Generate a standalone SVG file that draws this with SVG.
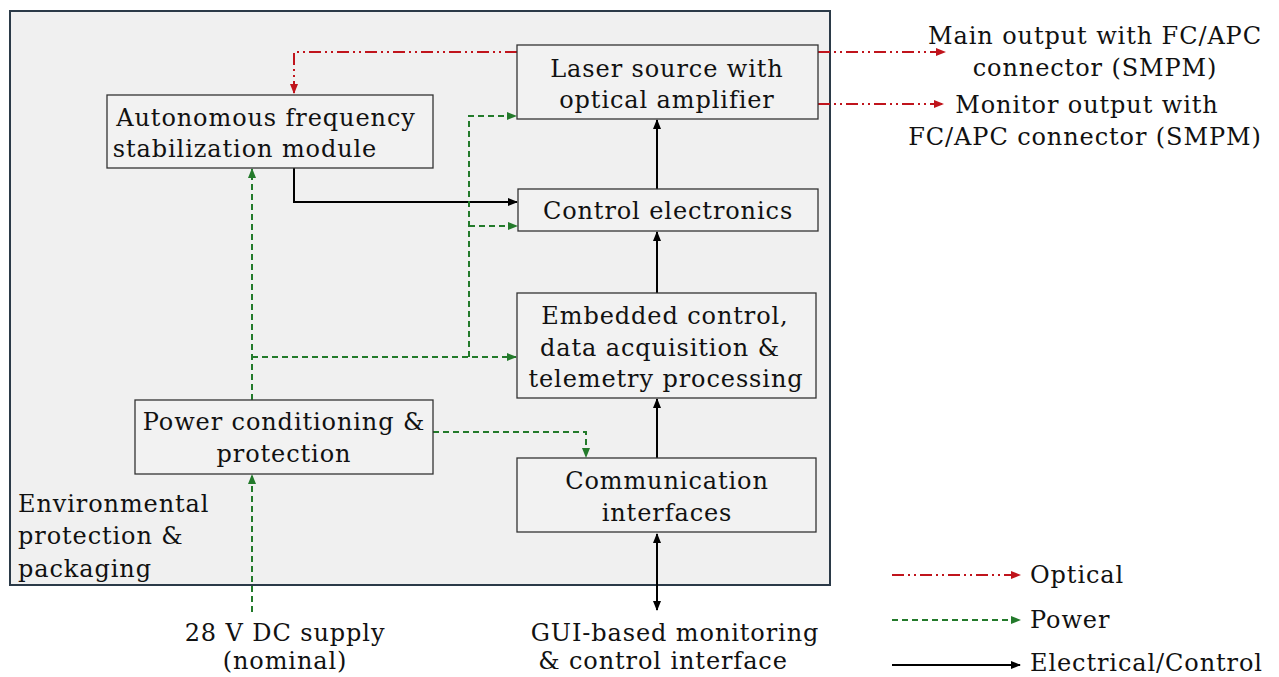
<svg xmlns="http://www.w3.org/2000/svg" width="1279" height="677" viewBox="0 0 1279 677">
<style>
text{font-family:"DejaVu Serif","Liberation Serif",serif;font-size:24px;letter-spacing:0.9px;fill:#111;text-anchor:middle}
.box{fill:#f2f2f2;stroke:#333;stroke-width:1.3}
.opt{fill:none;stroke:#c0141c;stroke-width:2;stroke-dasharray:12 4 2 4 2 4}
.pwr{fill:none;stroke:#237a2b;stroke-width:2;stroke-dasharray:6 4}
.el{fill:none;stroke:#000;stroke-width:2}
</style>
<defs>
<marker id="aR" markerWidth="10" markerHeight="8" refX="9" refY="4" orient="auto" markerUnits="userSpaceOnUse"><path d="M0,0 L10,4 L0,8 z" fill="#c0141c"/></marker>
<marker id="aG" markerWidth="10" markerHeight="8" refX="9" refY="4" orient="auto" markerUnits="userSpaceOnUse"><path d="M0,0 L10,4 L0,8 z" fill="#237a2b"/></marker>
<marker id="aK" markerWidth="10" markerHeight="8" refX="9" refY="4" orient="auto" markerUnits="userSpaceOnUse"><path d="M0,0 L10,4 L0,8 z" fill="#000"/></marker>
<marker id="aKs" markerWidth="10" markerHeight="8" refX="1" refY="4" orient="auto" markerUnits="userSpaceOnUse"><path d="M10,0 L0,4 L10,8 z" fill="#000"/></marker>
</defs>
<rect width="1279" height="677" fill="#fff"/>
<g id="enclosure">
<rect x="10" y="11" width="820" height="574" fill="#f0f0f0" stroke="#2b3a48" stroke-width="2"/>
<text x="18" y="512" style="text-anchor:start">Environmental</text>
<text x="18" y="544" style="text-anchor:start">protection &amp;</text>
<text x="18" y="577" style="text-anchor:start">packaging</text>
</g>
<g id="connectors">
<path class="opt" d="M517,52 H294 V93" marker-end="url(#aR)"/>
<path class="opt" d="M818,52 H945" marker-end="url(#aR)"/>
<path class="opt" d="M818,104 H943" marker-end="url(#aR)"/>
<path class="el" d="M294,168 V202 H517" marker-end="url(#aK)"/>
<path class="el" d="M657,189 V120" marker-end="url(#aK)"/>
<path class="el" d="M657,293 V232" marker-end="url(#aK)"/>
<path class="el" d="M657,458 V399" marker-end="url(#aK)"/>
<path class="el" d="M657,534 V610" marker-start="url(#aKs)" marker-end="url(#aK)"/>
<path class="pwr" d="M252,612 V475" marker-end="url(#aG)"/>
<path class="pwr" d="M252,400 V169" marker-end="url(#aG)"/>
<path class="pwr" d="M252,357 H516" marker-end="url(#aG)"/>
<path class="pwr" d="M469,357 V116 H516" marker-end="url(#aG)"/>
<path class="pwr" d="M469,226 H517" marker-end="url(#aG)"/>
<path class="pwr" d="M433,432 H586 V457" marker-end="url(#aG)"/>
</g>
<g id="laser">
<rect class="box" x="517" y="45" width="301" height="74"/>
<text x="667" y="77">Laser source with</text>
<text x="667" y="108">optical amplifier</text>
</g>
<g id="afsm">
<rect class="box" x="107" y="95" width="326" height="73"/>
<text x="266" y="126">Autonomous frequency</text>
<text x="245" y="157">stabilization module</text>
</g>
<g id="control">
<rect class="box" x="518" y="189" width="300" height="42"/>
<text x="668" y="219">Control electronics</text>
</g>
<g id="embedded">
<rect class="box" x="517" y="293" width="299" height="105"/>
<text x="665" y="324">Embedded control,</text>
<text x="660" y="356">data acquisition &amp;</text>
<text x="666" y="387">telemetry processing</text>
</g>
<g id="power">
<rect class="box" x="135" y="400" width="298" height="74"/>
<text x="284" y="430">Power conditioning &amp;</text>
<text x="284" y="462">protection</text>
</g>
<g id="comm">
<rect class="box" x="517" y="458" width="299" height="74"/>
<text x="667" y="489">Communication</text>
<text x="667" y="521">interfaces</text>
</g>
<g id="outputs">
<text x="1095" y="44">Main output with FC/APC</text>
<text x="1095" y="76">connector (SMPM)</text>
<text x="1087" y="113">Monitor output with</text>
<text x="1085" y="145">FC/APC connector (SMPM)</text>
</g>
<g id="supply">
<text x="285" y="641">28 V DC supply</text>
<text x="285" y="669">(nominal)</text>
</g>
<g id="gui">
<text x="675" y="641">GUI-based monitoring</text>
<text x="663" y="669">&amp; control interface</text>
</g>
<g id="legend">
<path class="opt" d="M892,575 H1020" marker-end="url(#aR)"/>
<path class="pwr" d="M892,620 H1020" marker-end="url(#aG)"/>
<path class="el" d="M892,665 H1020" marker-end="url(#aK)"/>
<text x="1030" y="583" style="text-anchor:start">Optical</text>
<text x="1030" y="628" style="text-anchor:start">Power</text>
<text x="1030" y="671" style="text-anchor:start">Electrical/Control</text>
</g>
</svg>
